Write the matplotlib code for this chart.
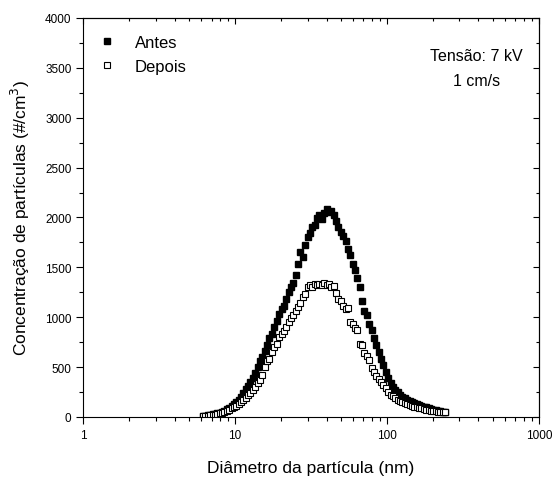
import numpy as np
import matplotlib
matplotlib.use("Agg")
import matplotlib.pyplot as plt
from matplotlib.ticker import FixedLocator, NullFormatter, MultipleLocator

plt.rcParams['font.family'] = ['Liberation Sans', 'DejaVu Sans']

# diametro (nm), canais do SMPS
diam = [6.15, 6.38, 6.61, 6.85, 7.10, 7.37, 7.64, 7.91, 8.20, 8.51,
        8.82, 9.14, 9.47, 9.82, 10.2, 10.6, 10.9, 11.3, 11.8, 12.2,
        12.6, 13.1, 13.6, 14.1, 14.6, 15.1, 15.7, 16.3, 16.8, 17.5,
        18.1, 18.8, 19.5, 20.2, 20.9, 21.7, 22.5, 23.3, 24.1, 25.0,
        25.9, 26.9, 27.9, 28.9, 30.0, 31.1, 32.2, 33.4, 34.6, 35.9,
        37.2, 38.5, 40.0, 41.4, 42.9, 44.5, 46.1, 47.8, 49.6, 51.4,
        53.3, 55.2, 57.3, 59.4, 61.5, 63.8, 66.1, 68.5, 71.0, 73.7,
        76.4, 79.1, 82.0, 85.1, 88.2, 91.4, 94.7, 98.2, 101.8, 105.5,
        109.4, 113.4, 117.6, 121.9, 126.3, 131.0, 135.8, 140.7, 145.9, 151.2,
        156.8, 162.5, 168.5, 174.7, 181.1, 187.7, 194.6, 201.7, 209.1, 216.7,
        224.7, 232.9, 241.4]

antes = [10, 12, 15, 20, 25, 30, 38, 45, 55, 65,
         80, 95, 110, 130, 150, 175, 205, 240, 280, 315,
         350, 390, 440, 500, 560, 600, 660, 720, 790, 830,
         900, 960, 1030, 1080, 1110, 1180, 1250, 1300, 1340, 1420,
         1530, 1650, 1600, 1720, 1800, 1840, 1900, 1920, 1990, 2020,
         1980, 2050, 2085, 2060, 2070, 2030, 1960, 1900, 1850, 1810,
         1760, 1680, 1620, 1530, 1470, 1390, 1300, 1160, 1060, 1020,
         930, 870, 790, 720, 650, 580, 520, 450, 390, 345,
         305, 275, 250, 225, 205, 190, 175, 162, 152, 142,
         132, 122, 112, 104, 96, 88, 80, 74, 68, 62,
         56, 52, 48]

depois = [8, 10, 12, 15, 18, 22, 28, 35, 45, 55,
          65, 75, 90, 100, 115, 135, 150, 170, 195, 220,
          245, 270, 300, 340, 370, 420, 500, 560, 580, 650,
          700, 730, 800, 830, 860, 900, 950, 990, 1020, 1060,
          1100, 1140, 1200, 1230, 1300, 1320, 1300, 1330, 1320, 1330,
          1320, 1340, 1320, 1330, 1300, 1310, 1240, 1180, 1160, 1110,
          1080, 1090, 950, 930, 890, 870, 730, 720, 640, 610,
          570, 490, 450, 415, 380, 350, 320, 290, 250, 225,
          210, 190, 175, 160, 148, 138, 128, 120, 112, 105,
          98, 92, 86, 80, 74, 69, 64, 60, 56, 53,
          50, 48, 46]

fig = plt.figure(figsize=(5.55, 4.81), dpi=100)
ax = fig.add_axes([0.150, 0.131, 0.821, 0.8295])

ax.plot(diam, antes, 's', ms=4.2, color='black', mec='black', label='Antes')
ax.plot(diam, depois, 's', ms=4.2, mfc='white', mec='black', mew=0.8, label='Depois')

ax.set_xscale('log')
ax.set_xlim(1, 1000)
ax.set_ylim(0, 4000)
ax.xaxis.set_major_locator(FixedLocator([1, 10, 100, 1000]))
ax.set_xticklabels(['1', '10', '100', '1000'])
minors = [m * d for d in (1, 10, 100) for m in range(2, 10)]
ax.xaxis.set_minor_locator(FixedLocator(minors))
ax.xaxis.set_minor_formatter(NullFormatter())
ax.yaxis.set_major_locator(MultipleLocator(500))
ax.yaxis.set_minor_locator(MultipleLocator(250))

ax.tick_params(which='both', direction='out', labelsize=8.5, width=0.8)
ax.tick_params(which='major', length=5)
ax.tick_params(which='minor', length=3)

# ticks espelhados em cima e a direita
axt = ax.secondary_xaxis('top')
axt.xaxis.set_major_locator(FixedLocator([1, 10, 100, 1000]))
axt.xaxis.set_minor_locator(FixedLocator(minors))
axt.tick_params(which='both', direction='in', labeltop=False, width=0.8)
axt.tick_params(which='major', length=4)
axt.tick_params(which='minor', length=2.5)
axr = ax.secondary_yaxis('right')
axr.yaxis.set_major_locator(MultipleLocator(500))
axr.yaxis.set_minor_locator(MultipleLocator(250))
axr.tick_params(which='both', direction='in', labelright=False, width=0.8)
axr.tick_params(which='major', length=4)
axr.tick_params(which='minor', length=2.5)

ax.set_xlabel('Diâmetro da partícula (nm)', fontsize=12.5, labelpad=14)
ax.set_ylabel('Concentração de partículas (#/cm$^3$)', fontsize=12.5, labelpad=9)

ax.legend(loc='upper left', bbox_to_anchor=(-0.018, 0.995), frameon=False,
          fontsize=12, handletextpad=0.7, handlelength=2.0,
          labelspacing=0.55, markerscale=1.0)

ax.text(0.863, 0.925, 'Tensão: 7 kV\n1 cm/s', transform=ax.transAxes,
        ha='center', va='top', fontsize=11.5, linespacing=1.85)

fig.savefig('out.png', dpi=100)
